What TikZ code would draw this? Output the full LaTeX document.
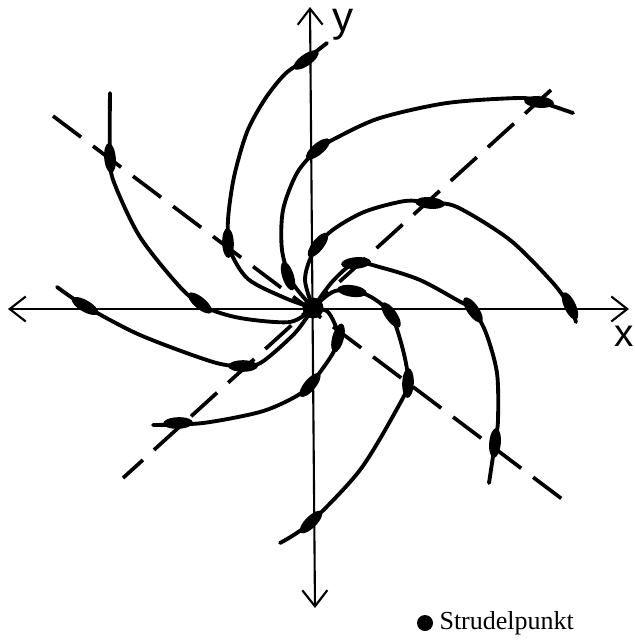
\documentclass[tikz,border=0pt]{standalone}
\usepackage{fontspec}
\setmainfont{Liberation Serif}
\setsansfont{Liberation Sans}
\usetikzlibrary{arrows.meta}

\tikzset{
  bahn/.style={line width=2.2pt, line cap=round},
  achse/.style={line width=1.2pt,
      {Straight Barb[length=3.2mm,width=5mm]}-{Straight Barb[length=3.2mm,width=5mm]}},
  trenn/.style={line width=2.1pt, dash pattern=on 20pt off 8.5pt},
  punkt/.style={circle, fill, inner sep=0pt, minimum size=#1},
}

\begin{document}
\begin{tikzpicture}[x=0.02cm, y=-0.02cm]
  \useasboundingbox (0,0) rectangle (635,642);
  % Achsen
  \coordinate (xl) at (8,309);
  \coordinate (xr) at (629,309);
  \coordinate (yo) at (310,7);
  \coordinate (yu) at (315,608);
  \draw[achse] (xl) -- (xr);
  \draw[achse] (yu) -- (yo);
  \node[font=\sffamily\fontsize{24}{24}\selectfont] (ly) at (343,25) {y};
  \node[font=\sffamily\fontsize{22}{22}\selectfont] (lx) at (624,336) {x};
  % Trennlinien
  \coordinate (d1a) at (53,116);
  \coordinate (d1b) at (562,499);
  \coordinate (d2a) at (551,90);
  \coordinate (d2b) at (123,478);
  \draw[trenn] (d1a) -- (d1b);
  \draw[trenn] (d2a) -- (d2b);
  % Bahnen
  \draw[bahn] plot[smooth] coordinates
    {(327,43) (305,60) (285,74) (265,99) (247,132) (234,177) (228,220) (230,250) (248,279) (285,298) (313,308)};
  \draw[bahn] plot[smooth] coordinates
    {(573,113) (540,102) (520,98) (447,103) (380,118) (338,137) (317,150) (297,173) (283,210) (282,250) (292,282) (313,308)};
  \draw[bahn] plot[smooth] coordinates
    {(110,93) (110,160) (115,185) (140,237) (180,287) (205,307) (240,318) (290,322) (313,308)};
  \draw[bahn] plot[smooth] coordinates
    {(57,287) (85,306) (140,335) (213,362) (243,366) (262,362) (295,333) (313,308)};
  \draw[bahn] plot[smooth] coordinates
    {(153,425) (203,423) (260,412) (293,398) (310,385) (333,353) (338,334) (328,312) (313,308)};
  \draw[bahn] plot[smooth] coordinates
    {(280,543) (310,523) (360,470) (398,407) (408,383) (403,350) (390,313) (365,294) (335,291) (313,308)};
  \draw[bahn] plot[smooth] coordinates
    {(489,483) (495,443) (498,420) (497,373) (486,333) (473,310) (457,300) (420,280) (383,268) (355,263) (332,282) (313,308)};
  \draw[bahn] plot[smooth] coordinates
    {(576,322) (570,307) (553,283) (510,240) (457,207) (430,203) (405,201) (364,212) (330,232) (312,255) (305,280) (313,308)};
  % Richtungsmarken
  \foreach \x/\y/\a in {306/60/35, 228/243/92, 539/102/175, 318/149/40, 288/276/108,
      110/158/95, 200/303/140, 85/306/150, 243/366/0, 178/423/2, 310/385/50,
      338/338/75, 311/522/45, 408/383/88, 391/315/125, 352/291/172, 495/443/85,
      473/310/125, 356/263/5, 570/306/115, 430/203/175, 318/245/52}
    \fill[rotate around={\a:(\x,\y)}] (\x,\y) ellipse (8.5pt and 3.3pt);
  % Strudelpunkt
  \node[punkt=0.42cm] (O) at (313,308) {};
  \node[punkt=0.32cm] (lp) at (425,623) {};
  \node[anchor=west, font=\fontsize{14.8}{16}\selectfont] (lt) at (lp.east) {Strudelpunkt};
\end{tikzpicture}
\end{document}
